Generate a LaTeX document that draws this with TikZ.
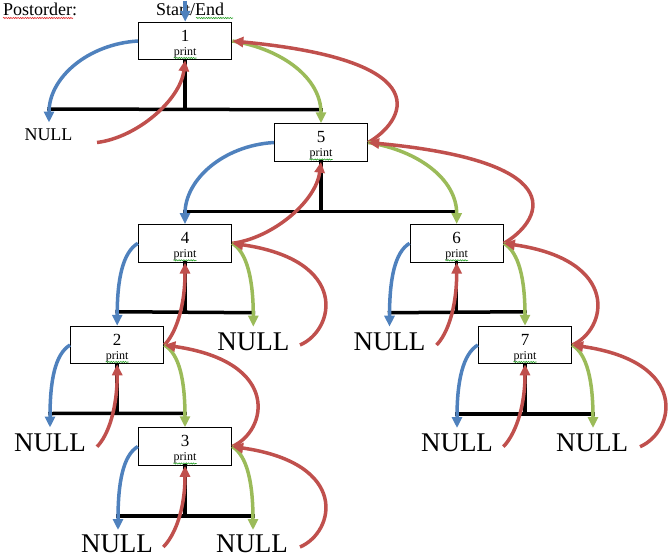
\documentclass[tikz,border=0pt]{standalone}
\usepackage{fontspec}
\setmainfont{Liberation Serif}
\usetikzlibrary{arrows.meta,calc,decorations.pathmorphing}
\definecolor{cblue}{RGB}{79,129,189}
\definecolor{cgreen}{RGB}{155,187,89}
\definecolor{cred}{RGB}{192,80,77}
\definecolor{sqred}{RGB}{225,40,40}
\definecolor{sqgreen}{RGB}{40,160,40}
\newcommand\treebox[4]{%
  \node[box] (#1) at (#2,#3) {};
  \node[num] (#1t) at (#2,#3) {#4};
  \node[prt] (#1p) at (#2,#3+14) {print};
  \draw[squig,sqgreen] (#2-11.5,#3+17) -- (#2+11.5,#3+17);
}
\begin{document}
\begin{tikzpicture}[x=1pt,y=-1pt,
  box/.style={draw,line width=1pt,minimum width=93.3pt,minimum height=37.5pt,inner sep=0pt,fill=white},
  num/.style={font=\fontsize{17}{17}\selectfont,inner sep=0pt,anchor=base},
  prt/.style={font=\fontsize{12}{12}\selectfont,inner sep=0pt,anchor=base},
  bignull/.style={font=\fontsize{27}{27}\selectfont,inner sep=0pt,anchor=base},
  smalltxt/.style={font=\fontsize{18}{18}\selectfont,inner sep=0pt,anchor=base},
  bar/.style={line width=3.5pt,line cap=rect},
  arr/.style={line width=3.5pt,-{Triangle[length=11pt,width=10pt]}},
  bluearr/.style={arr,cblue}, greenarr/.style={arr,cgreen}, redarr/.style={arr,cred},
  squig/.style={decorate,decoration={snake,amplitude=0.6pt,segment length=2.4pt},line width=0.6pt},
  cc/.style 2 args={to path={.. controls ($(\tikztostart)+#1$) and ($(\tikztotarget)+#2$) .. (\tikztotarget)}},
  lblue/.style={cc={(-50,3)}{(0,-45)}},
  lgreen/.style={cc={(50,8)}{(0,-45)}},
  lredl/.style={cc={(40,-5)}{(-5,40)}},
  lredr/.style={cc={(35,-20)}{(212,20)}},
  sblue/.style={cc={(-15,9)}{(0,-47)}},
  sgreen/.style={cc={(15,9)}{(0,-47)}},
  sredl/.style={cc={(11,-11)}{(0,45)}},
  sredr/.style={cc={(35,-15)}{(118,17)}},
]
\useasboundingbox (0,0) rectangle (672,557);

% titles
\node[smalltxt,anchor=base west] (po) at (3,15) {Postorder:};
\node[smalltxt] (se) at (190,15) {Start/End};
\draw[squig,sqred] (3,18) -- (73,18);
\draw[squig,sqgreen] (196,18) -- (233,18);

% boxes
\treebox{n1}{185.2}{41}{1}
\treebox{n5}{321}{142.5}{5}
\treebox{n4}{185}{243.3}{4}
\treebox{n6}{456.7}{243.3}{6}
\treebox{n2}{117.2}{345}{2}
\treebox{n7}{525}{345}{7}
\treebox{n3}{185}{446.5}{3}

% NULL leaves
\node[smalltxt] (null1) at (48.5,140) {NULL};
\node[bignull] (null4) at (253.3,350) {NULL};
\node[bignull] (null6) at (389.5,350) {NULL};
\node[bignull] (null2) at (50,451.7) {NULL};
\node[bignull] (null7a) at (457,451.7) {NULL};
\node[bignull] (null7b) at (592,451.7) {NULL};
\node[bignull] (null3a) at (117,552.5) {NULL};
\node[bignull] (null3b) at (252,552.5) {NULL};

% arrow tips above NULL leaves
\coordinate (a1) at (49,122.5);
\coordinate (b4) at (253.3,326.7);
\coordinate (a6) at (389.5,326.7);
\coordinate (a2) at (50,427.5);
\coordinate (a7) at (457,428);
\coordinate (b7) at (593,428);
\coordinate (a3) at (118,530);
\coordinate (b3) at (253,530);

% return starts beside NULL leaves
\coordinate (e1) at ($(null1.base)+(48.5,2.5)$);
\coordinate (e4) at ($(null4.base)+(46.7,-5)$);
\coordinate (e6) at ($(null6.base)+(47,-5)$);
\coordinate (e2) at ($(null2.base)+(47,-5)$);
\coordinate (e7a) at ($(null7a.base)+(46.3,-5)$);
\coordinate (e7b) at ($(null7b.base)+(48,-5)$);
\coordinate (e3a) at ($(null3a.base)+(46.3,-5.5)$);
\coordinate (e3b) at ($(null3b.base)+(48,-5.5)$);

% T bars
\coordinate (n1l) at ($(a1)+(0,-13.5)$);       \coordinate (n1r) at ($(n5.north)+(0,-13.5)$);
\coordinate (n5l) at ($(n4.north)+(0,-12.5)$); \coordinate (n5r) at ($(n6.north)+(0,-12.5)$);
\coordinate (n4l) at ($(n2.north)+(0,-14)$);   \coordinate (n4r) at ($(b4)+(0,-14)$);
\coordinate (n6l) at ($(a6)+(0,-14)$);         \coordinate (n6r) at ($(n7.north)+(0,-14)$);
\coordinate (n2l) at ($(a2)+(0,-14)$);         \coordinate (n2r) at ($(n3.north)+(0,-14)$);
\coordinate (n7l) at ($(a7)+(0,-14)$);         \coordinate (n7r) at ($(b7)+(0,-14)$);
\coordinate (n3l) at ($(a3)+(0,-14)$);         \coordinate (n3r) at ($(b3)+(0,-14)$);
\foreach \p in {n1,n5,n4,n6,n2,n7,n3}{
  \draw[bar] (\p l) -- (\p r);
  \draw[bar] (\p.south) -- (\p.south |- \p l);
}

% start arrow
\coordinate (s0) at (185.2,0.5);
\draw[bluearr] (s0) -- (n1.north);

% node 1
\draw[bluearr] (n1.west) to[lblue] (a1);
\draw[greenarr] (n1.east) to[lgreen] (n5.north);
\draw[redarr] (e1) to[lredl] (n1.south);
\draw[redarr] (n5.east) to[lredr] (n1.east);
% node 5
\draw[bluearr] (n5.west) to[lblue] (n4.north);
\draw[greenarr] (n5.east) to[lgreen] (n6.north);
\draw[redarr] (n4.east) to[lredl] (n5.south);
\draw[redarr] (n6.east) to[lredr] (n5.east);
% node 4
\draw[bluearr] (n4.west) to[sblue] (n2.north);
\draw[greenarr] (n4.east) to[sgreen] (b4);
\draw[redarr] (n2.east) to[sredl] (n4.south);
\draw[redarr] (e4) to[sredr] (n4.east);
% node 6
\draw[bluearr] (n6.west) to[sblue] (a6);
\draw[greenarr] (n6.east) to[sgreen] (n7.north);
\draw[redarr] (e6) to[sredl] (n6.south);
\draw[redarr] (n7.east) to[sredr] (n6.east);
% node 2
\draw[bluearr] (n2.west) to[sblue] (a2);
\draw[greenarr] (n2.east) to[sgreen] (n3.north);
\draw[redarr] (e2) to[sredl] (n2.south);
\draw[redarr] (n3.east) to[sredr] (n2.east);
% node 7
\draw[bluearr] (n7.west) to[sblue] (a7);
\draw[greenarr] (n7.east) to[sgreen] (b7);
\draw[redarr] (e7a) to[sredl] (n7.south);
\draw[redarr] (e7b) to[sredr] (n7.east);
% node 3
\draw[bluearr] (n3.west) to[sblue] (a3);
\draw[greenarr] (n3.east) to[sgreen] (b3);
\draw[redarr] (e3a) to[sredl] (n3.south);
\draw[redarr] (e3b) to[sredr] (n3.east);
\end{tikzpicture}
\end{document}
